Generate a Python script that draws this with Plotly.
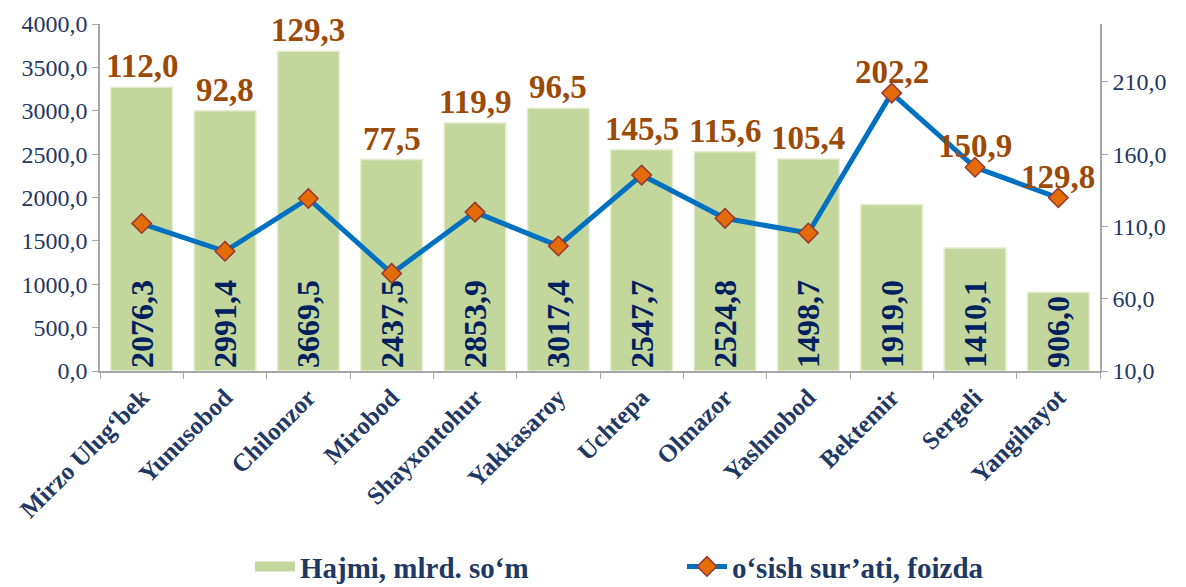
from plotly import graph_objects as go

# districts of Tashkent
districts = [
    "Mirzo Ulug‘bek", "Yunusobod", "Chilonzor", "Mirobod", "Shayxontohur",
    "Yakkasaroy", "Uchtepa", "Olmazor", "Yashnobod", "Bektemir", "Sergeli",
    "Yangihayot",
]
# bar heights as drawn (left axis)
volume = [3270, 3000, 3685, 2438, 2858, 3030, 2550, 2526, 2445, 1919, 1418, 908]
# bar labels as printed in the original
volume_labels = [
    "2076,3", "2991,4", "3669,5", "2437,5", "2853,9", "3017,4",
    "2547,7", "2524,8", "1498,7", "1919,0", "1410,1", "906,0",
]
# growth rate, percent (right axis)
growth = [112.0, 92.8, 129.3, 77.5, 119.9, 96.5, 145.5, 115.6, 105.4, 202.2, 150.9, 129.8]

LEFT_RANGE = (0, 4000)
RIGHT_RANGE = (10, 250)
FONT = "Liberation Serif, Times New Roman, serif"
NAVY = "#1F3864"
BROWN = "#9C4A08"
GREY = "#A6A6A6"
BAR_GREEN = "#C3D69B"

fig = go.Figure()
fig.add_trace(
    go.Bar(
        x=districts,
        y=volume,
        name="Hajmi, mlrd. so‘m",
        showlegend=False,
        text=volume_labels,
        textposition="inside",
        insidetextanchor="start",
        textangle=-90,
        constraintext="none",
        textfont={"family": FONT, "size": 32, "color": "#002060", "weight": "bold"},
        marker={"color": BAR_GREEN, "line": {"color": "#E4EDCF", "width": 1.5}},
        hoverinfo="skip",
    )
)
# legend-only entry so the bar key is drawn as a wide flat bar, like the original
fig.add_trace(
    go.Scatter(
        x=[None],
        y=[None],
        name="Hajmi, mlrd. so‘m",
        mode="lines",
        line={"color": BAR_GREEN, "width": 12},
    )
)
fig.add_trace(
    go.Scatter(
        x=districts,
        y=growth,
        yaxis="y2",
        name="o‘sish sur’ati, foizda",
        mode="lines+markers",
        line={"color": "#0070C0", "width": 5},
        marker={
            "symbol": "diamond",
            "size": 15,
            "color": "#E36C09",
            "line": {"color": "#953735", "width": 1.5},
        },
    )
)

# growth labels sit above whichever is higher: the bar or the point
annotations = []
for name, v, g in zip(districts, volume, growth):
    g_left = (g - RIGHT_RANGE[0]) / (RIGHT_RANGE[1] - RIGHT_RANGE[0]) * LEFT_RANGE[1]
    annotations.append(
        dict(
            x=name,
            y=max(v, g_left),
            xref="x",
            yref="y",
            text=f"{g:.1f}".replace(".", ","),
            showarrow=False,
            yanchor="bottom",
            yshift=2,
            borderpad=0,
            font={"family": FONT, "size": 33, "color": BROWN, "weight": "bold"},
        )
    )

axis_font = {"family": FONT, "size": 24, "color": NAVY}
axis_common = {
    "showline": True,
    "linecolor": GREY,
    "linewidth": 1.5,
    "ticks": "outside",
    "ticklen": 6,
    "tickcolor": GREY,
    "showgrid": False,
    "automargin": False,
}
fig.update_layout(
    width=1186,
    height=587,
    margin={"l": 92, "r": 94, "t": 16, "b": 224},
    plot_bgcolor="white",
    paper_bgcolor="white",
    separators=", ",
    bargap=0.26,
    showlegend=True,
    annotations=annotations,
    xaxis={
        "range": [-0.5, len(districts) - 0.5],
        "tickangle": -45,
        "tickfont": {"family": FONT, "size": 25, "color": NAVY, "weight": "bold"},
        "tickson": "boundaries",
        **axis_common,
    },
    yaxis={
        "range": list(LEFT_RANGE),
        "dtick": 500,
        "tickformat": ".1f",
        "tickfont": axis_font,
        "zeroline": False,
        **axis_common,
    },
    yaxis2={
        "range": list(RIGHT_RANGE),
        "tick0": 10,
        "dtick": 50,
        "tickformat": ".1f",
        "tickfont": axis_font,
        "overlaying": "y",
        "side": "right",
        "zeroline": False,
        **axis_common,
    },
    legend={
        "orientation": "h",
        "xref": "container",
        "yref": "container",
        "x": 0.204,
        "xanchor": "left",
        "y": 0.005,
        "yanchor": "bottom",
        "entrywidth": 377,
        "itemwidth": 40,
        "font": {"family": FONT, "size": 29, "color": NAVY, "weight": "bold"},
    },
)

fig.write_html("out.html")
